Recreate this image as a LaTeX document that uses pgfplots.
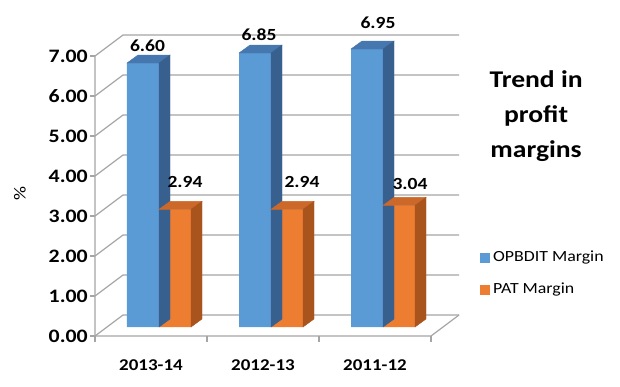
\documentclass[border=0pt]{standalone}
\usepackage{fontspec}
\setmainfont{Carlito}[FakeStretch=1.15]
\usepackage{pgfplots}
\usepackage{pgfplotstable}
\pgfplotsset{compat=1.18}
\definecolor{blueF}{RGB}{91,155,213}
\definecolor{blueS}{RGB}{56,96,142}
\definecolor{blueT}{RGB}{70,120,175}
\definecolor{orangeF}{RGB}{237,125,49}
\definecolor{orangeS}{RGB}{168,84,28}
\definecolor{orangeT}{RGB}{203,104,42}
\definecolor{gridc}{RGB}{165,165,165}
% x = category, y = value, lx/ly = label offset (pt) from the bar's front top
\pgfplotstableread{
x y lx ly
1 6.60 -15.5 17
2 6.85 -16 18
3 6.95 -9 26.5
}\opbdit
\pgfplotstableread{
x y lx ly
1 2.94 22 27
2 2.94 27 27
3 3.04 23 21.5
}\pat
\pgfplotsset{
  sqlegend/.style={legend image code/.code={\fill[##1,draw=none] (0pt,-5pt) rectangle (10pt,5pt);}},
  faces/.style n args={3}{
    scatter, only marks, mark=*, mark size=0pt, forget plot,
    visualization depends on={rawy \as \barval},
    visualization depends on={\thisrow{lx} \as \lblx},
    visualization depends on={\thisrow{ly} \as \lbly},
    scatter/@pre marker code/.code={
      \fill[#3] (#1pt-16pt,0pt) -- ++(11pt,8pt) -- ++(32pt,0pt) -- ++(-11pt,-8pt) -- cycle;
      \fill[#2] (#1pt+16pt,0pt) -- ++(11pt,8pt) -- ++(0pt,-\barval*40pt) -- ++(-11pt,-8pt) -- cycle;
      \node[font=\bfseries\fontsize{17}{20}\selectfont, text=black, anchor=center, inner sep=0pt] at (\lblx pt,\lbly pt) {\pgfmathprintnumber[fixed,fixed zerofill,precision=2,assume math mode=true]{\barval}};
      \begin{scope}[draw opacity=0, fill opacity=0]
    },
    scatter/@post marker code/.code={\end{scope}},
  },
}
\begin{document}
\begin{tikzpicture}
\useasboundingbox (-107pt,-59pt) rectangle (513pt,327pt);
\begin{axis}[
  at={(0pt,0pt)}, anchor=south west,
  x=112pt, y=40pt,
  xmin=0.5, xmax=3.5, ymin=0, ymax=7,
  enlargelimits=false, clip=false,
  axis x line*=bottom, axis y line*=left,
  axis line style={draw=none},
  major tick length=0pt, tick style={draw=none},
  xtick={1,2,3}, xticklabels={2013-14,2012-13,2011-12},
  ytick={0,1,...,7},
  yticklabel style={/pgf/number format/fixed, /pgf/number format/fixed zerofill, /pgf/number format/precision=2, /pgf/number format/assume math mode=true, anchor=east, inner sep=0pt, xshift=-19pt, yshift=-9pt, font=\bfseries\fontsize{19}{22}\selectfont},
  xticklabel style={anchor=north, inner sep=0pt, xshift=-12pt, yshift=-32pt, font=\bfseries\fontsize{16.5}{20}\selectfont},
  ylabel={\%},
  ylabel style={at={(rel axis cs:-0.259,0.475)}, anchor=center, font=\fontsize{17}{20}\selectfont},
  legend style={at={(rel axis cs:1.11,0.19)}, anchor=west, draw=none, fill=none, inner sep=0pt, row sep=12pt, font=\fontsize{15.5}{18}\selectfont, nodes={inner sep=3pt, text height=11pt, text depth=3pt}},
  legend cell align=left,
]
\pgfplotsinvokeforeach{0,1,2,3,4,5,6,7}{
  \draw[gridc, line width=1.2pt] ([xshift=-12pt,yshift=-9pt]axis cs:0.5,#1) -- ([xshift=16pt,yshift=12pt]axis cs:0.5,#1) -- ([xshift=16pt,yshift=12pt]axis cs:3.5,#1);
  \draw[gridc, line width=1.2pt] ([xshift=-12pt,yshift=-9pt]axis cs:0.5,#1) -- ++(-5pt,0pt);
}
\draw[gridc, line width=1.2pt] ([xshift=-12pt,yshift=-9pt]axis cs:0.5,7) -- ([xshift=-12pt,yshift=-9pt]axis cs:0.5,0) -- ([xshift=-12pt,yshift=-9pt]axis cs:3.5,0) -- ([xshift=16pt,yshift=12pt]axis cs:3.5,0);
\pgfplotsinvokeforeach{0.5,1.5,2.5,3.5}{
  \draw[gridc, line width=1.2pt] ([xshift=-12pt,yshift=-9pt]axis cs:#1,0) -- ++(0pt,-6pt);
}
\addplot[ybar, bar width=32pt, bar shift=-20pt, fill=blueF, draw=none, sqlegend] table[x=x, y=y] {\opbdit};
\addlegendentry{OPBDIT Margin}
\addplot[faces={-20}{blueS}{blueT}] table[x=x, y=y] {\opbdit};
\addplot[ybar, bar width=32pt, bar shift=12pt, fill=orangeF, draw=none, sqlegend] table[x=x, y=y] {\pat};
\addlegendentry{PAT Margin}
\addplot[faces={12}{orangeS}{orangeT}] table[x=x, y=y] {\pat};
\node[font=\bfseries\fontsize{24}{35}\selectfont, align=center] at (rel axis cs:1.277,0.754) {Trend in\\profit\\margins};
\end{axis}
\end{tikzpicture}
\end{document}
